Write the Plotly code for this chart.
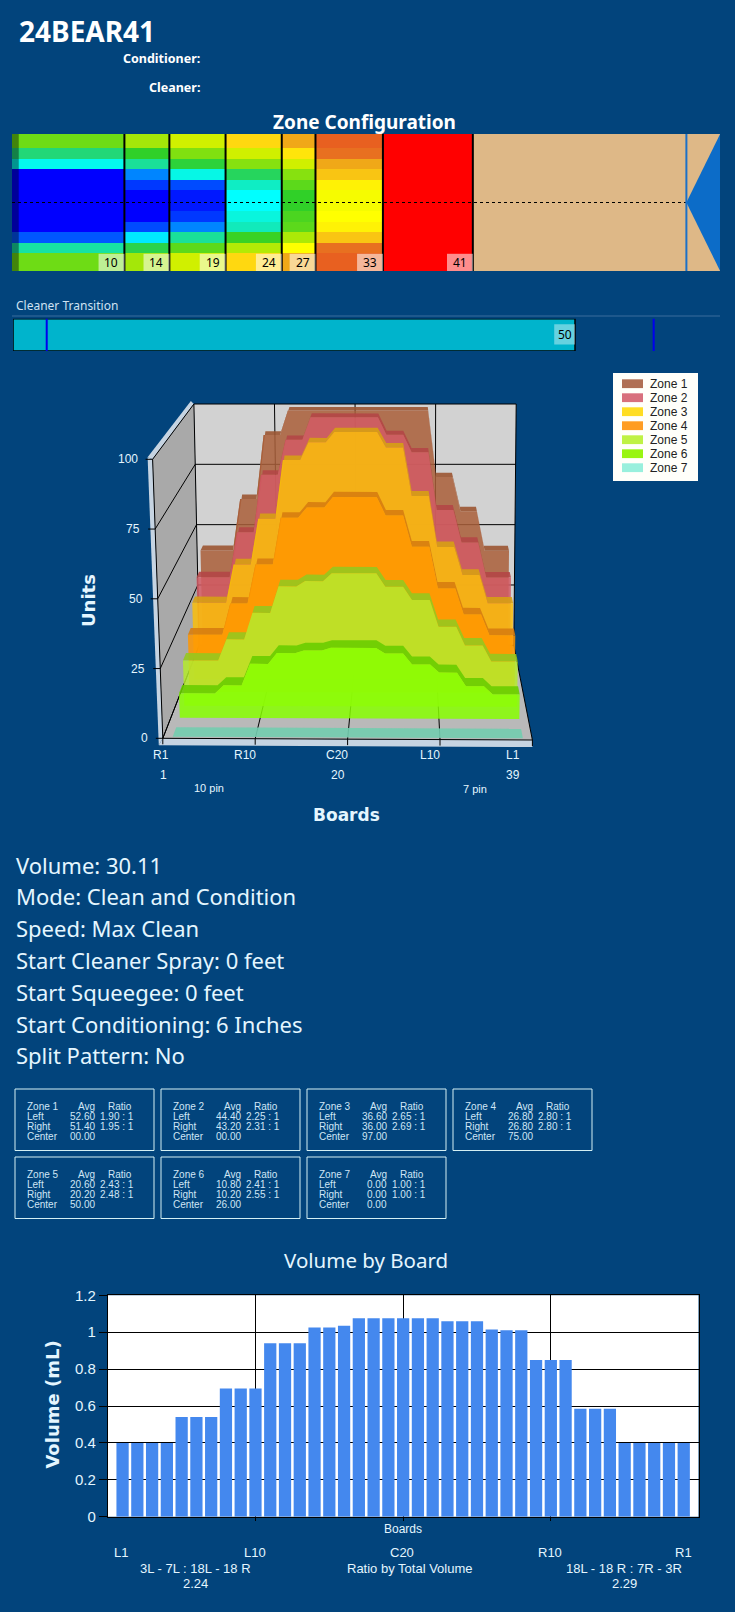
import numpy as np
import plotly.graph_objects as go

W, H = 735, 1612
BG = "#02447c"
TXT = "#e4f6ff"
SANS = "Noto Sans"
ARIAL = "Liberation Sans"
WIDE = "DejaVu Sans"

# board groups, L1 side first
group_sizes = [4, 3, 3, 3, 3, 6, 3, 3, 3, 3, 5]
zone_names = ["Zone 1", "Zone 2", "Zone 3", "Zone 4", "Zone 5", "Zone 6", "Zone 7"]
zone_1 = [43, 59, 73, 100, 100, 100, 100, 100, 90, 64, 43]
zone_2 = [36, 50, 63, 86, 93, 100, 100, 91, 77, 54, 36]
zone_3 = [30, 41, 52, 72, 91, 97, 93, 86, 63, 45, 30]
zone_4 = [22, 30, 40, 56, 68, 75, 71, 67, 49, 34, 22]
zone_5 = [17, 23, 30, 40, 45, 50, 47, 45, 35, 25, 17]
zone_6 = [9, 12, 17, 20, 24, 26, 25, 24, 20, 12, 9]
zone_7 = [0, 0, 0, 0, 0, 0, 0, 0, 0, 0, 0]
zone_ends = [10, 14, 19, 24, 27, 33, 41]
transition_end = 50
transition_marks = [3, 57]

left_avg = [52.60, 44.40, 36.60, 26.80, 20.60, 10.80, 0.00]
right_avg = [51.40, 43.20, 36.00, 26.80, 20.20, 10.20, 0.00]
left_ratio = [1.90, 2.25, 2.65, 2.80, 2.43, 2.41, 1.00]
right_ratio = [1.95, 2.31, 2.69, 2.80, 2.48, 2.55, 1.00]
center_val = [100.00, 100.00, 97.00, 75.00, 50.00, 26.00, 0.00]

info_lines = ["Volume: 30.11", "Mode: Clean and Condition", "Speed: Max Clean",
              "Start Cleaner Spray: 0 feet", "Start Squeegee: 0 feet",
              "Start Conditioning: 6 Inches", "Split Pattern: No"]

board_volume = [0.40, 0.40, 0.40, 0.40, 0.54, 0.54, 0.54, 0.695, 0.695, 0.695,
                0.94, 0.94, 0.94, 1.025, 1.025, 1.035, 1.075, 1.075, 1.075, 1.075,
                1.075, 1.075, 1.06, 1.06, 1.06, 1.015, 1.01, 1.01, 0.85, 0.85,
                0.85, 0.585, 0.585, 0.585, 0.40, 0.40, 0.40, 0.40, 0.40]
volume_ticks = [0, 0.2, 0.4, 0.6, 0.8, 1, 1.2]

zones = [np.repeat(z, group_sizes) for z in [zone_1, zone_2, zone_3, zone_4, zone_5, zone_6, zone_7]]
boards = np.arange(1, 40)

# value -> colour of the lane map (high oil blue, none red)
lane_scale = [[0, "#ff0000"], [0.09, "#e86020"], [0.12, "#e87020"], [0.17, "#f0a818"],
              [0.22, "#ffd810"], [0.25, "#ffff00"], [0.30, "#d0f000"], [0.41, "#80e010"],
              [0.50, "#30d028"], [0.60, "#20d880"], [0.75, "#00ffff"], [0.85, "#0090ff"],
              [0.92, "#0040ff"], [1, "#0000ff"]]

front_fill = ["rgba(170,95,57,.85)", "rgba(210,90,100,.85)", "rgba(250,190,10,.85)",
              "rgba(255,150,0,.85)", "rgba(180,235,45,.85)", "rgba(135,255,0,.85)",
              "rgba(110,200,170,.9)"]
shelf_fill = ["rgba(155,85,50,.9)", "rgba(180,70,70,.9)", "rgba(215,160,20,.9)",
              "rgba(215,125,15,.9)", "rgba(150,200,30,.9)", "rgba(105,205,0,.9)",
              "rgba(115,205,175,.9)"]
legend_fill = ["#b07055", "#d8707c", "#ffdd22", "#ff9d22", "#bff244", "#99f511", "#99f0dd"]
# how far into the chart each ribbon stands, before perspective
zone_depth = [0.853, 0.713, 0.573, 0.434, 0.294, 0.18, 0.014]


def px(x):
    return x / W


def py(y):
    return 1 - y / H


shapes = []
notes = []


def txt(x, y, text, size=12, color=TXT, anchor="left", bold=False, family=SANS, angle=0):
    # annotations carry about 2px of padding, take it back out
    if anchor == "left":
        x -= 2
    elif anchor == "right":
        x += 2
    notes.append(dict(x=px(x), y=py(y), xref="paper", yref="paper", text=f"<b>{text}</b>" if bold else text,
                      showarrow=False, xanchor=anchor, yanchor="middle", textangle=angle,
                      font=dict(size=size, color=color, family=family)))


def box(x0, y0, x1, y1, fill=None, line=None, width=1, layer="above", xref="paper", yref="paper"):
    if xref == "paper":
        x0, x1, y0, y1 = px(x0), px(x1), py(y0), py(y1)
    shapes.append(dict(type="rect", x0=x0, x1=x1, y0=y0, y1=y1, xref=xref, yref=yref, layer=layer,
                       fillcolor=fill or "rgba(0,0,0,0)",
                       line=dict(color=line or "rgba(0,0,0,0)", width=width if line else 0)))


fig = go.Figure()

# ---------- lane map
fig.add_trace(go.Heatmap(x=[0] + zone_ends, y=np.arange(0.5, 40), z=np.array(zones).T, zmin=0, zmax=100,
                         colorscale=lane_scale, showscale=False, hoverinfo="skip", xaxis="x", yaxis="y"))
box(zone_ends[-1], 0.5, 63, 39.5, fill="#deb887", layer="below", xref="x", yref="y")
box(0, 0.5, 0.6, 39.5, fill="rgba(0,0,0,.4)", xref="x", yref="y")
for e in zone_ends:
    shapes.append(dict(type="line", x0=e, x1=e, y0=0.5, y1=39.5, xref="x", yref="y", line=dict(color="black", width=2)))
shapes.append(dict(type="line", x0=0, x1=60, y0=20, y1=20, xref="x", yref="y", line=dict(color="black", width=1, dash="dot")))
shapes.append(dict(type="path", path="M 60 20 L 63 0.5 L 63 39.5 Z", xref="x", yref="y", fillcolor="#0c6cc8", line=dict(width=0)))
shapes.append(dict(type="line", x0=60, x1=60, y0=0.5, y1=39.5, xref="x", yref="y", line=dict(color="#1a70c8", width=2)))
for e in zone_ends:
    box(e - 2.3, 34.6, e, 39.5, fill="rgba(255,255,255,.55)", xref="x", yref="y")
    notes.append(dict(x=e - 1.15, y=37.1, xref="x", yref="y", text=str(e), showarrow=False,
                      font=dict(size=12, color="black", family=SANS)))

# ---------- cleaner transition
fig.add_trace(go.Bar(x=[transition_end], y=[0.5], width=1, orientation="h", marker=dict(color="#00b4cc", line=dict(width=0)),
                     hoverinfo="skip", xaxis="x2", yaxis="y2"))
box(0, 0, transition_end, 1, line="black", width=1.5, xref="x2", yref="y2")
for m in transition_marks:
    shapes.append(dict(type="line", x0=m, x1=m, y0=0, y1=1.05, xref="x2", yref="y2", line=dict(color="#0000ee", width=2)))
box(transition_end - 1.85, 0.2, transition_end, 0.83, fill="rgba(255,255,255,.4)", xref="x2", yref="y2")
notes.append(dict(x=transition_end - 0.92, y=0.5, xref="x2", yref="y2", text=str(transition_end), showarrow=False,
                  font=dict(size=12, color="black", family=SANS)))
shapes.append(dict(type="line", x0=px(12), x1=px(720), y0=py(316), y1=py(316), xref="paper", yref="paper", line=dict(color="#3a6d9c", width=1)))

# ---------- 3d style area chart: box corners on screen, front/back, left/right, bottom/top
FLB, FRB, BLB, BRB = np.array([162.8, 738.3]), np.array([532.4, 740.0]), np.array([199.2, 645.3]), np.array([513.8, 645.3])
FLT, FRT, BLT, BRT = np.array([152.6, 459.3]), np.array([537.2, 460.7]), np.array([193.9, 404.0]), np.array([516.2, 404.0])


def project(b, u, s):
    # b across boards, u up the units scale, s into the depth, all 0..1
    fb = FLB + (FRB - FLB) * b
    bb = BLB + (BRB - BLB) * b
    ft = FLT + (FRT - FLT) * b
    bt = BLT + (BRT - BLT) * b
    lo = fb + (bb - fb) * s
    hi = ft + (bt - ft) * s
    return lo + (hi - lo) * u


def depth(u):
    return u * 1.3 / (1 + 0.3 * u)


def poly(points, fill):
    path = "M " + " L ".join(f"{p[0]:.1f} {p[1]:.1f}" for p in points) + " Z"
    shapes.append(dict(type="path", path=path, xref="x3", yref="y3", layer="below", fillcolor=fill, line=dict(width=0)))


def seg(a, b, color="black", width=1):
    shapes.append(dict(type="line", x0=a[0], y0=a[1], x1=b[0], y1=b[1], xref="x3", yref="y3", layer="below", line=dict(color=color, width=width)))


rim = "#c6d4e2"
poly([FLT + [-5, -2], BLT + [-3, -3], BLT, FLT], rim)
poly([FLT + [-5, -2], FLT, FLB, FLB + [-4, 7]], rim)
poly([FLB + [-4, 7], FRB + [0, 7], FRB, FLB], rim)
poly([BLB, BRB, BRT, BLT], "#d2d2d2")
poly([FLB, BLB, BLT, FLT], "#a9a9a9")
poly([FLB, FRB, BRB, BLB], "#b9b9b9")
for t in [0, 25, 50, 75, 100]:
    u = t / 100
    seg(project(0, u, 1), project(1, u, 1))
    seg(project(0, u, 0), project(0, u, 1))
    seg(project(0, u, 0) + [-7, 0], project(0, u, 0))
    notes.append(dict(x=project(0, u, 0)[0] - 13, y=project(0, u, 0)[1], xref="x3", yref="y3", text=str(t), showarrow=False,
                      xanchor="right", font=dict(size=12, color=TXT, family=ARIAL)))
for b in [0, 0.25, 0.5, 0.75, 1]:
    seg(project(b, 0, 0), project(b, 0, 1))
    seg(project(b, 0, 1), project(b, 1, 1))
    seg(project(b, 0, 0), project(b, 0, 0) + [0, 6])
seg(FLT, FLB)
seg(FLB, FRB)

for i in range(7):
    v = zones[i][::-1] / 100  # chart runs R1 -> L1
    s0, s1 = depth(zone_depth[i]), depth(zone_depth[i] + 0.08)
    front_top = [project(b / 40, h, s0) for b, h in zip(boards, v)]
    back_top = [project(b / 40, h, s1) for b, h in zip(boards, v)]
    foot = [project(boards[-1] / 40, 0, s0), project(boards[0] / 40, 0, s0)]
    shelf = np.array(back_top + front_top[::-1] + [back_top[0]])
    fig.add_trace(go.Scatter(x=shelf[:, 0], y=shelf[:, 1], fill="toself", fillcolor=shelf_fill[i], mode="lines",
                             line=dict(width=0), hoverinfo="skip", xaxis="x3", yaxis="y3"))
    if i < 6:
        face = np.array(front_top + foot + [front_top[0]])
        fig.add_trace(go.Scatter(x=face[:, 0], y=face[:, 1], fill="toself", fillcolor=front_fill[i], mode="lines",
                                 line=dict(width=0), hoverinfo="skip", xaxis="x3", yaxis="y3"))

for x, lab in zip([161, 245, 337, 430, 513], ["R1", "R10", "C20", "L10", "L1"]):
    txt(x, 755, lab, 12, anchor="center", family=ARIAL)
for x, lab in zip([163, 338, 513], ["1", "20", "39"]):
    txt(x, 775, lab, 12, anchor="center", family=ARIAL)
txt(209, 788, "10 pin", 11, anchor="center", family=ARIAL)
txt(475, 789, "7 pin", 11, anchor="center", family=ARIAL)
txt(346, 815, "Boards", 17, anchor="center", bold=True, family=WIDE)
txt(88, 601, "Units", 18, anchor="center", bold=True, family=WIDE, angle=-90)

# legend
box(613, 373, 698, 481, fill="#fffffa")
for i, name in enumerate(zone_names):
    yy = 383.7 + 14 * i
    box(622, yy - 4.4, 643, yy + 4.4, fill=legend_fill[i])
    txt(650, yy, name, 12, color="#222222", family=ARIAL)

# ---------- header and text
txt(18.5, 31.5, "24BEAR41", 28, color="white", bold=True)
txt(199.7, 59, "Conditioner:", 12.5, color="white", anchor="right", bold=True)
txt(199.7, 87.3, "Cleaner:", 12.5, color="white", anchor="right", bold=True)
txt(364.7, 121.7, "Zone Configuration", 19, color="white", anchor="center", bold=True)
txt(16.4, 305.7, "Cleaner Transition", 12, color="#cfe2f2")
for i, line in enumerate(info_lines):
    txt(16, 864.5 + 31.8 * i, line, 22)

# ---------- zone stat boxes
for i, name in enumerate(zone_names):
    col, row = i % 4, i // 4
    x0, y0 = 15 + 146 * col, 1089 + 68 * row
    box(x0, y0, x0 + 139, y0 + 61.5, line="#d4f0f4", width=1)
    tc = "#cfe6f6"
    for k, lab in enumerate([name, "Left", "Right", "Center"]):
        txt(x0 + 12, y0 + 17.2 + 10 * k, lab, 10, color=tc, family=ARIAL)
    txt(x0 + 80, y0 + 17.2, "Avg", 10, color=tc, anchor="right", family=ARIAL)
    txt(x0 + 105, y0 + 17.2, "Ratio", 10, color=tc, anchor="center", family=ARIAL)
    txt(x0 + 80, y0 + 27.2, f"{left_avg[i]:.2f}", 10, color=tc, anchor="right", family=ARIAL)
    txt(x0 + 80, y0 + 37.2, f"{right_avg[i]:.2f}", 10, color=tc, anchor="right", family=ARIAL)
    # source field only shows five characters, so 100.00 comes out as 00.00
    txt(x0 + 80, y0 + 47.2, f"{center_val[i]:.2f}"[-5:], 10, color=tc, anchor="right", family=ARIAL)
    txt(x0 + 85, y0 + 27.2, f"{left_ratio[i]:.2f} : 1", 10, color=tc, family=ARIAL)
    txt(x0 + 85, y0 + 37.2, f"{right_ratio[i]:.2f} : 1", 10, color=tc, family=ARIAL)

# ---------- volume by board
box(107.8, 1295.3, 698.5, 1516.7, fill="white", layer="below")
fig.add_trace(go.Bar(x=boards, y=board_volume, width=0.83, marker=dict(color="#4488ee", line=dict(width=0)),
                     hoverinfo="skip", xaxis="x4", yaxis="y4"))
txt(365.7, 1260, "Volume by Board", 20.5, anchor="center")
txt(51.6, 1405, "Volume (mL)", 18, anchor="center", bold=True, family=WIDE, angle=-90)
txt(402.7, 1529, "Boards", 12, anchor="center", family=ARIAL)
for x, lab in zip([121.4, 254.6, 402, 550.4, 683], ["L1", "L10", "C20", "R10", "R1"]):
    txt(x, 1552.7, lab, 13, anchor="center", family=ARIAL)
txt(195.5, 1568, "3L - 7L : 18L - 18 R", 13, anchor="center", family=ARIAL)
txt(195.5, 1583, "2.24", 13, anchor="center", family=ARIAL)
txt(410, 1568, "Ratio by Total Volume", 13, anchor="center", family=ARIAL)
txt(624, 1568, "18L - 18 R : 7R - 3R", 13, anchor="center", family=ARIAL)
txt(624, 1583, "2.29", 13, anchor="center", family=ARIAL)


def dom(a, b):
    return [a / W, b / W]


def vdom(top, bottom):
    return [1 - bottom / H, 1 - top / H]


hidden = dict(visible=False, fixedrange=True, automargin=False)
fig.update_layout(
    width=W, height=H, margin=dict(l=0, r=0, t=0, b=0, autoexpand=False), showlegend=False,
    paper_bgcolor=BG, plot_bgcolor="rgba(0,0,0,0)", barmode="overlay",
    shapes=shapes, annotations=notes,
    xaxis=dict(domain=dom(12, 720), range=[0, 62.99], anchor="y", **hidden),
    yaxis=dict(domain=vdom(134, 271), range=[39.5, 0.5], anchor="x", **hidden),
    xaxis2=dict(domain=dom(13, 720), range=[0, 62.9], anchor="y2", **hidden),
    yaxis2=dict(domain=vdom(318.7, 351), range=[0, 1], anchor="x2", **hidden),
    xaxis3=dict(domain=dom(100, 560), range=[100, 560], anchor="y3", **hidden),
    yaxis3=dict(domain=vdom(390, 790), range=[790, 390], anchor="x3", **hidden),
    xaxis4=dict(domain=dom(107.8, 698.5), range=[0, 40], anchor="y4", tickvals=[10, 20, 30], ticks="outside", ticklen=3,
                tickcolor="black", showticklabels=False, showgrid=True, gridcolor="black", gridwidth=1,
                showline=True, linecolor="black", mirror=True, zeroline=False, fixedrange=True, automargin=False),
    yaxis4=dict(domain=vdom(1295.3, 1516.7), range=[0, 1.2], anchor="x4", tickvals=volume_ticks,
                ticktext=[str(t) for t in volume_ticks], ticks="outside", ticklen=8, tickcolor="black",
                tickfont=dict(size=15, color=TXT, family=ARIAL), showgrid=True, gridcolor="black", gridwidth=1,
                showline=True, linecolor="black", mirror=True, zeroline=False, fixedrange=True, automargin=False),
)

# page default has an 8px body margin, the chart fills the window
fig.write_html("out.html", config={"displayModeBar": False},
               post_script="document.body.style.margin = '0'; document.body.style.overflow = 'hidden';")
